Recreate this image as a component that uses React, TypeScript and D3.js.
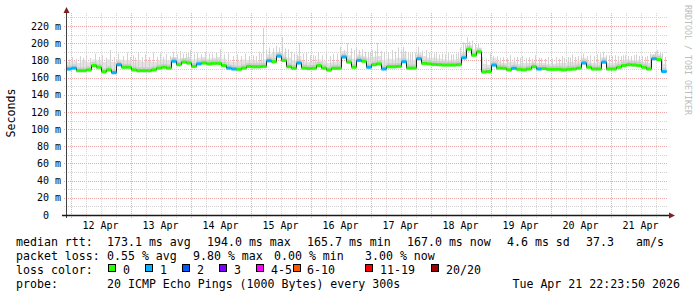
import React from 'react';
import * as d3 from 'd3';

// ---- data ----
const END_TIME = Date.UTC(2026, 3, 21, 22, 23, 50);
const SPAN_DAYS = 10;
const STEP_HOURS = 2;

// median rtt (ms), one value per 2-hour step
const median = [
  170, 171, 168, 168, 169, 174, 172, 166.8, 169, 165.7,
  175, 172, 172, 169, 168, 168, 168, 169, 171, 172,
  171, 179, 175, 178, 177, 173, 176, 177, 176, 176.5,
  176.5, 174, 171, 170, 169.6, 171, 173, 172.6, 172.6, 173,
  179.6, 178.5, 185, 180, 172.6, 170.8, 177, 171, 170.5, 170.8,
  174, 171, 168.8, 170.8, 170.8, 184, 178, 172, 180, 179,
  172, 175, 176, 170, 172.6, 172.6, 173, 178.5, 171, 171,
  182, 176.5, 176, 175.3, 175, 174.6, 174.6, 174.6, 175, 183,
  193, 186, 190, 166.5, 167, 174.6, 171, 170.8, 169, 170.8,
  169.6, 169, 170, 172.6, 170, 170.5, 169.6, 169.6, 169.6, 169,
  169.6, 170, 171, 177, 172, 170, 170, 178, 170, 170,
  172, 174, 175, 174.6, 174, 172, 170, 182, 181, 167,
];

// lost pings (of 20) per step
const loss = [
  1, 1, 0, 0, 0, 0, 0, 0, 0, 1,
  1, 0, 0, 0, 0, 0, 0, 0, 0, 0,
  0, 1, 0, 0, 0, 0, 1, 0, 0, 0,
  0, 0, 1, 1, 0, 0, 0, 0, 0, 0,
  1, 0, 1, 0, 0, 0, 1, 0, 0, 0,
  0, 0, 0, 0, 0, 1, 0, 0, 1, 0,
  1, 0, 0, 1, 0, 0, 0, 1, 0, 0,
  1, 0, 0, 0, 0, 0, 0, 0, 0, 1,
  0, 0, 0, 0, 0, 1, 0, 0, 0, 1,
  0, 0, 0, 0, 1, 0, 0, 0, 0, 0,
  0, 0, 0, 1, 0, 0, 0, 1, 0, 0,
  0, 0, 0, 0, 0, 0, 0, 1, 0, 1,
];

// upper edge of the dense smoke (ms) per step
const smokeHi = [
  178, 179, 177, 180, 178, 181, 180, 178, 181, 178,
  181, 180, 180, 178, 180, 178, 179, 178, 180, 181,
  180, 184, 182, 183, 184, 181, 183, 184, 182, 183,
  184, 182, 179, 178, 179, 181, 180, 180, 179, 181,
  187, 189, 190, 188, 183, 180, 185, 179, 178, 178,
  181, 179, 177, 178, 179, 191, 186, 182, 187, 185,
  183, 184, 185, 180, 182, 181, 183, 188, 181, 180,
  189, 185, 183, 183, 182, 181, 180, 181, 182, 189,
  198, 193, 195, 176, 175, 183, 179, 177, 178, 178,
  176, 177, 177, 179, 177, 177, 176, 176, 177, 177,
  178, 178, 179, 183, 179, 177, 178, 184, 177, 177,
  179, 180, 181, 180, 180, 178, 177, 187, 187, 176,
];

// smoke spikes: [hours after start, ms]
const spikes: [number, number][] = [
  [0.8, 181], [2.2, 184], [3.6, 182], [5.4, 185], [6.6, 183], [7.8, 186], [9.4, 183], [11.4, 188],
  [12.8, 184], [14.2, 186], [15.8, 183], [17.4, 192], [19.0, 184], [20.6, 188], [22.4, 185],
  [24.2, 189], [25.2, 184], [26.4, 186], [27.4, 183], [28.6, 190], [30.0, 184], [31.4, 187],
  [33.0, 184], [34.6, 189], [36.0, 184], [37.4, 188], [38.6, 184], [39.8, 187], [41.2, 185],
  [42.6, 190], [44.0, 187], [45.4, 191], [46.4, 188], [47.6, 188], [48.6, 189], [49.4, 192],
  [50.8, 188], [52.2, 189], [53.8, 187], [55.4, 190], [56.8, 188], [58.2, 188], [59.8, 189],
  [61.4, 193], [63.0, 187], [64.6, 188], [66.4, 185], [68.2, 187], [69.8, 185], [71.4, 188],
  [73.0, 185], [74.6, 186], [75.8, 185], [76.8, 190], [77.6, 188], [78.6, 218], [79.6, 192],
  [81.0, 195], [82.4, 194], [83.8, 197], [85.0, 195], [86.2, 207], [87.4, 194], [88.6, 193],
  [89.8, 190], [91.0, 188], [92.0, 187], [93.0, 200], [94.4, 188], [95.8, 189], [97.2, 186],
  [98.4, 186], [99.6, 185], [100.6, 190], [102.2, 186], [103.8, 188], [105.2, 185], [106.6, 187],
  [108.0, 188], [109.4, 196], [110.8, 192], [112.2, 200], [113.6, 194], [114.8, 192],
  [115.8, 195], [117.0, 192], [118.2, 193], [119.4, 190], [120.4, 189], [121.4, 190],
  [122.2, 192], [123.2, 191], [124.2, 200], [125.6, 191], [127.0, 190], [128.6, 189],
  [130.2, 192], [131.4, 190], [132.6, 195], [133.6, 192], [134.6, 196], [135.4, 191],
  [136.4, 190], [137.2, 188], [138.2, 190], [139.4, 189], [140.6, 196], [142.2, 191],
  [143.8, 192], [144.8, 189], [145.8, 188], [146.8, 188], [147.8, 190], [149.0, 187],
  [150.2, 188], [151.4, 187], [152.6, 189], [153.6, 187], [154.6, 187], [155.6, 188],
  [156.6, 190], [157.6, 195], [158.6, 201], [159.4, 200], [160.2, 207], [161.2, 202],
  [162.2, 203], [163.4, 199], [164.6, 200], [166.0, 184], [167.6, 182], [169.4, 188],
  [170.6, 185], [172.0, 185], [173.4, 183], [174.6, 184], [176.0, 183], [177.4, 186],
  [178.8, 183], [180.0, 184], [181.2, 183], [182.2, 185], [183.6, 183], [185.0, 184],
  [186.2, 182], [187.4, 186], [188.8, 183], [190.0, 183], [191.4, 182], [192.6, 184],
  [194.0, 182], [195.6, 184], [196.8, 182], [198.2, 185], [199.2, 183], [200.4, 184],
  [201.4, 183], [202.2, 187], [203.4, 184], [204.6, 185], [205.6, 186], [206.6, 188],
  [208.0, 185], [209.4, 186], [210.8, 185], [212.2, 187], [213.4, 188], [214.6, 190],
  [215.8, 186], [217.0, 186], [218.2, 185], [219.4, 186], [220.6, 185], [221.6, 185],
  [222.6, 186], [223.4, 186], [224.6, 185], [225.6, 185], [226.8, 186], [227.8, 187],
  [229.0, 185], [230.0, 185], [231.2, 184], [232.2, 185], [233.4, 188], [234.4, 187],
  [235.4, 190], [236.2, 192], [237.2, 190], [238.2, 188], [239.2, 184],
];

const yTickValues = [0, 20, 40, 60, 80, 100, 120, 140, 160, 180, 200, 220];
const yTickLabels = ['0', '20 m', '40 m', '60 m', '80 m', '100 m', '120 m', '140 m', '160 m', '180 m', '200 m', '220 m'];

const lossLabels = ['0', '1', '2', '3', '4-5', '6-10', '11-19', '20/20'];
const lossColors = ['#26ff00', '#00b8ff', '#0059ff', '#7e00ff', '#ff00ff', '#ff5500', '#ff0000', '#a00000'];
const lossLimits = [0, 1, 2, 3, 5, 10, 19, 20];

const rttLabels = ['173.1 ms avg', '194.0 ms max', '165.7 ms min', '167.0 ms now', '4.6 ms sd', '37.3', 'am/s'];
const lossStatLabels = ['0.55 % avg', '9.80 % max', '0.00 % min', '3.00 % now'];
const probeText = '20 ICMP Echo Pings (1000 Bytes) every 300s';
const stampText = 'Tue Apr 21 22:23:50 2026';

// ---- chart ----
const FONT = '"DejaVu Sans Mono", monospace';

function colorFor(l: number) {
  for (let k = 0; k < lossLimits.length; k++) if (l <= lossLimits[k]) return lossColors[k];
  return lossColors[lossColors.length - 1];
}

export default function App() {
  const W = 697, H = 297;
  const start = new Date(END_TIME - SPAN_DAYS * 864e5);
  const end = new Date(END_TIME);
  const x = d3.scaleUtc().domain([start, end]).range([66.5, 666.5]);
  const y = d3.scaleLinear().domain([0, 220]).range([215, 26]);
  const stepMs = STEP_HOURS * 3600e3;
  const tAt = (i: number) => new Date(start.getTime() + i * stepMs);

  const plotTop = y(235);
  const crisp = (v: number) => Math.round(v) + 0.5;

  const minorH = d3.range(10, 231, 10).filter((v) => v % 20 !== 0);
  const majorH = d3.range(20, 221, 20);
  const minorV = d3.utcHour.every(6)!.range(start, end).filter((d) => d.getUTCHours() !== 0);
  const majorV = d3.utcDay.range(start, end);
  const labelDays = d3.utcDay.range(start, end);
  const fmt = d3.utcFormat('%d %b');

  type P = { t: Date; m: number; hi: number };
  const pts: P[] = median.map((m, i) => ({ t: tAt(i), m, hi: smokeHi[i] }));
  pts.push({ t: tAt(median.length), m: median[median.length - 1], hi: smokeHi[smokeHi.length - 1] });

  const smokeArea = d3.area<P>().curve(d3.curveStepAfter)
    .x((d) => x(d.t)).y0((d) => y(d.m) + 2).y1((d) => y(d.hi));
  const darkArea = d3.area<P>().curve(d3.curveStepAfter)
    .x((d) => x(d.t)).y0((d) => y(d.m) + 1).y1((d) => y(d.m) - 3.5);
  const medLine = d3.line<P>().curve(d3.curveStepAfter).x((d) => x(d.t)).y((d) => y(d.m));

  const lineY = [245.5, 259.5, 273.5, 287.5];
  const rttX = [107, 207, 307, 407, 507, 586, 636];
  const lossX = [107, 193, 274, 365];
  const boxX = [108.5, 145.5, 182.5, 219.5, 256.5, 293.5, 365.5, 431.5];
  const boxTextX = [123, 160, 197, 234, 271, 307, 380, 446];

  return (
    <svg width={W} height={H} viewBox={`0 0 ${W} ${H}`} style={{ display: 'block', position: 'absolute', left: 0, top: 0 }}
      fontFamily={FONT}>
      <rect x={0} y={0} width={W} height={H} fill="#ffffff" />

      {/* grid */}
      <g strokeWidth={1} strokeDasharray="1,1" fill="none">
        {minorH.map((v) => (
          <line key={'mh' + v} x1={64} x2={668} y1={crisp(y(v))} y2={crisp(y(v))} stroke="#d4d4d4" />
        ))}
        {minorV.map((d) => (
          <line key={'mv' + d.getTime()} x1={crisp(x(d))} x2={crisp(x(d))} y1={plotTop} y2={218} stroke="#d4d4d4" />
        ))}
        {majorH.map((v) => (
          <line key={'Mh' + v} x1={64} x2={668} y1={crisp(y(v))} y2={crisp(y(v))} stroke="#eaa8a8" />
        ))}
        {majorV.map((d) => (
          <line key={'Mv' + d.getTime()} x1={crisp(x(d))} x2={crisp(x(d))} y1={plotTop} y2={218} stroke="#eaa8a8" />
        ))}
      </g>

      {/* smoke */}
      <path d={smokeArea(pts) || ''} fill="#e3e3e3" />
      <g stroke="#d2d2d2" strokeWidth={1}>
        {spikes.map(([h, v], k) => {
          const i = Math.min(median.length - 1, Math.floor(h / STEP_HOURS));
          const xx = crisp(x(new Date(start.getTime() + h * 3600e3)));
          return <line key={'s' + k} x1={xx} x2={xx} y1={y(median[i])} y2={y(v)} />;
        })}
      </g>
      <path d={darkArea(pts) || ''} fill="#c4c4c4" opacity={0.7} />

      {/* median */}
      <path d={medLine(pts) || ''} fill="none" stroke="#202020" strokeWidth={1} />
      {median.map((m, i) => (
        <rect key={'mb' + i} x={x(tAt(i))} width={x(tAt(i + 1)) - x(tAt(i))} y={y(m) - 1.5} height={3}
          fill={colorFor(loss[i])} />
      ))}

      {/* axes */}
      <line x1={66.5} x2={66.5} y1={218} y2={12} stroke="#404040" strokeWidth={1} />
      <path d="M63.5,13 L69.5,13 L66.5,7 Z" fill="#7f1f1f" />
      <line x1={62} x2={670} y1={215.5} y2={215.5} stroke="#1a1a1a" strokeWidth={1.3} />
      <path d="M669,212.5 L669,218.5 L675,215.5 Z" fill="#7f1f1f" />

      {/* y labels */}
      <g fontSize={10} fill="#000" textAnchor="end">
        {yTickValues.map((v, k) => (
          <text key={'yl' + v} x={v === 0 ? 49 : 61} y={y(v) + 3.6}>{yTickLabels[k]}</text>
        ))}
      </g>
      {/* x labels */}
      <g fontSize={10} fill="#000" textAnchor="middle">
        {labelDays.map((d) => (
          <text key={'xl' + d.getTime()} x={x(d3.utcHour.offset(d, 12))} y={229}>{fmt(d)}</text>
        ))}
      </g>

      <text transform="translate(15,113) rotate(-90)" fontSize={11.6} textAnchor="middle" fill="#000">Seconds</text>
      <text transform="translate(685,5) rotate(90)" fontSize={8.3} fill="#bdbdbd">RRDTOOL / TOBI OETIKER</text>

      {/* legend */}
      <g fontSize={11.6} fill="#000" style={{ whiteSpace: 'pre' }}>
        <text x={16} y={lineY[0]}>median rtt:</text>
        {rttLabels.map((s, k) => (
          <text key={'r' + k} x={rttX[k]} y={lineY[0]}>{s}</text>
        ))}
        <text x={16} y={lineY[1]}>packet loss:</text>
        {lossStatLabels.map((s, k) => (
          <text key={'l' + k} x={lossX[k]} y={lineY[1]}>{s}</text>
        ))}
        <text x={16} y={lineY[2]}>loss color:</text>
        {lossLabels.map((s, k) => (
          <g key={'c' + k}>
            <rect x={boxX[k]} y={264.5} width={7} height={7} fill={lossColors[k]} stroke="#000" strokeWidth={1} />
            <text x={boxTextX[k]} y={lineY[2]}>{s}</text>
          </g>
        ))}
        <text x={16} y={lineY[3]}>probe:</text>
        <text x={107} y={lineY[3]}>{probeText}</text>
        <text x={680} y={lineY[3]} textAnchor="end">{stampText}</text>
      </g>
    </svg>
  );
}
